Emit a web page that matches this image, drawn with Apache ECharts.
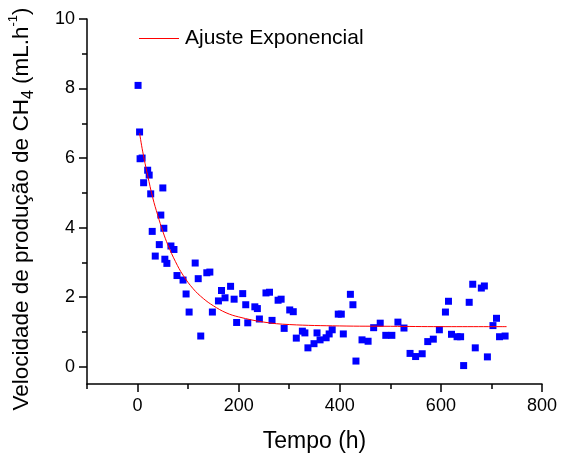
<!DOCTYPE html>
<html>
<head>
<meta charset="utf-8">
<script src="https://cdn.jsdelivr.net/npm/echarts@6/dist/echarts.min.js"></script>
<style>
html,body{margin:0;padding:0;background:#fff;}
#chart{width:567px;height:457px;}
</style>
</head>
<body>
<div id="chart"></div>
<script>
// Measured data (time in h, CH4 production rate)
var timeH = [1,4,5,9,12,20,23,26,29,35,43,46,50,52,54,58,66,72,78,90,96,102,114,120,125,137,143,148,160,166,173,184,191,196,208,214,218,232,237,241,254,261,266,278,284,290,301,308,314,326,331,337,349,355,361,373,379,385,397,403,407,421,426,432,444,456,467,480,491,503,515,527,539,550,563,574,585,597,609,615,621,632,639,645,656,663,668,680,686,692,703,710,716,727];
var rateValues = [8.09,6.75,5.98,6.00,5.29,5.65,5.51,4.97,3.89,3.18,3.51,4.36,5.14,3.98,3.09,2.97,3.47,3.37,2.62,2.49,2.09,1.57,2.98,2.53,0.88,2.70,2.72,1.57,1.89,2.19,1.98,2.31,1.94,1.27,2.10,1.78,1.26,1.72,1.67,1.37,2.12,2.14,1.33,1.91,1.94,1.10,1.63,1.58,0.82,1.02,0.97,0.54,0.66,0.97,0.77,0.83,0.94,1.06,1.51,1.51,0.94,2.08,1.78,0.16,0.77,0.73,1.12,1.25,0.90,0.90,1.28,1.11,0.38,0.29,0.37,0.72,0.79,1.06,1.57,1.88,0.93,0.86,0.86,0.03,1.85,2.37,0.54,2.26,2.32,0.28,1.18,1.39,0.86,0.88];

// Exponential fit curve
var fitTime = [4,10,20,30,40,50,60,75,90,110,130,150,175,200,250,300,400,500,600,730];
var fitValues = [6.72,6.20,5.50,4.86,4.35,3.89,3.50,3.02,2.63,2.24,1.96,1.75,1.55,1.43,1.28,1.21,1.17,1.16,1.15,1.15];

var fitName = 'Ajuste Exponencial';
var xMajorTicks = [0,200,400,600,800];
var xMinorTicks = [-100,100,300,500,700];
var yMajorTicks = [0,2,4,6,8,10];
var yMinorTicks = [1,3,5,7,9];

var scatterData = timeH.map(function(t,i){return [t, rateValues[i]];});
var fitData = fitTime.map(function(t,i){return [t, fitValues[i]];});

var FONT = '"Liberation Sans", Arial, sans-serif';
var axisLineStyle = {color:'#000', width:1.5};

var chart = echarts.init(document.getElementById('chart'), null, {renderer:'canvas'});
chart.setOption({
  animation:false,
  backgroundColor:'#fff',
  textStyle:{fontFamily:FONT, color:'#000'},
  grid:{left:87, right:25, top:19, bottom:73, containLabel:false, outerBoundsMode:'none'},
  legend:{
    data:[{name:fitName, icon:'rect'}], left:139, top:28, padding:0,
    itemWidth:40, itemHeight:1.2,
    textStyle:{fontSize:21, color:'#000', fontFamily:FONT, padding:[0,0,0,1]}
  },
  xAxis:[{
    type:'value', min:-100, max:800, interval:100,
    axisLine:{show:true, onZero:false, lineStyle:axisLineStyle},
    axisTick:{show:true, customValues:xMajorTicks, length:8, lineStyle:axisLineStyle},
    axisLabel:{customValues:xMajorTicks, fontSize:18, color:'#000', margin:13, fontFamily:FONT},
    splitLine:{show:false},
    name:'Tempo (h)', nameLocation:'middle', nameGap:46,
    nameTextStyle:{fontSize:23, color:'#000', fontFamily:FONT}
  },{
    type:'value', min:-100, max:800, interval:100, position:'bottom',
    axisLine:{show:false, onZero:false},
    axisTick:{show:true, customValues:xMinorTicks, length:5, lineStyle:axisLineStyle},
    axisLabel:{show:false},
    splitLine:{show:false}
  }],
  yAxis:[{
    type:'value', min:-0.5, max:10, interval:0.5,
    axisLine:{show:true, onZero:false, lineStyle:axisLineStyle},
    axisTick:{show:true, customValues:yMajorTicks, length:8, lineStyle:axisLineStyle},
    axisLabel:{customValues:yMajorTicks, fontSize:18, color:'#000', margin:12, fontFamily:FONT},
    splitLine:{show:false},
    name:'Velocidade de produção de CH{sub|4} (mL.h{sup|-1})',
    nameLocation:'middle', nameGap:50, nameRotate:90,
    nameTextStyle:{
      fontSize:22.5, color:'#000', fontFamily:FONT, lineHeight:30, padding:[0,15,0,0],
      rich:{
        sub:{fontSize:16, color:'#000', fontFamily:FONT, verticalAlign:'bottom', lineHeight:18, padding:[10,0,0,0]},
        sup:{fontSize:13, color:'#000', fontFamily:FONT, verticalAlign:'top', lineHeight:14, padding:[0,0,12,0]}
      }
    }
  },{
    type:'value', min:-0.5, max:10, interval:0.5, position:'left',
    axisLine:{show:false, onZero:false},
    axisTick:{show:true, customValues:yMinorTicks, length:5, lineStyle:axisLineStyle},
    axisLabel:{show:false},
    splitLine:{show:false}
  }],
  series:[{
    type:'scatter', data:scatterData, xAxisIndex:0, yAxisIndex:0,
    symbol:'rect', symbolSize:7,
    itemStyle:{color:'#0000ff', opacity:1}, z:3
  },{
    type:'line', name:fitName, data:fitData, xAxisIndex:0, yAxisIndex:0,
    smooth:0.4, symbol:'none', showSymbol:false,
    lineStyle:{color:'#ff0000', width:1}, itemStyle:{color:'#ff0000'}, z:4
  }]
});
</script>
</body>
</html>
